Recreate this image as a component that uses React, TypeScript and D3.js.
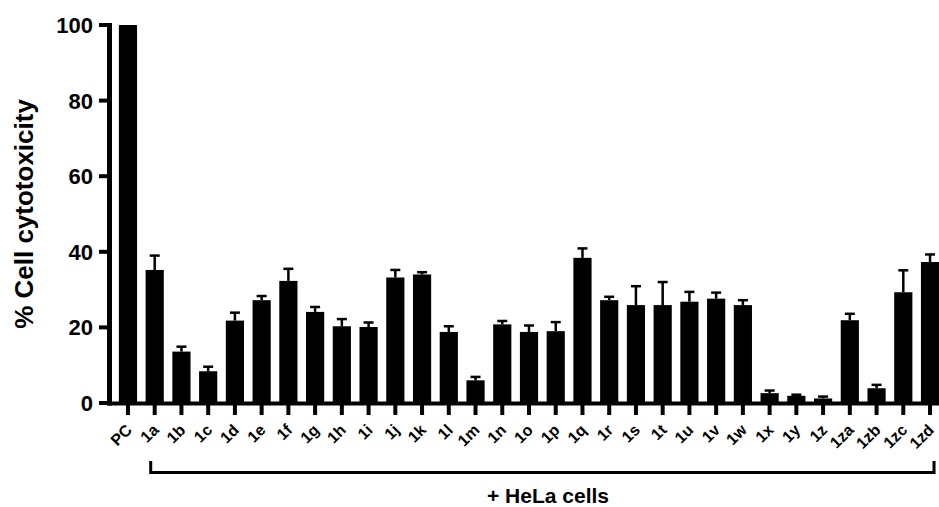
import React from "react";
import * as d3 from "d3";

const categories = ["PC","1a","1b","1c","1d","1e","1f","1g","1h","1i","1j","1k","1l","1m","1n","1o","1p","1q","1r","1s","1t","1u","1v","1w","1x","1y","1z","1za","1zb","1zc","1zd"];
const values = [100,35.2,13.6,8.4,21.8,27.2,32.3,24.1,20.3,20.1,33.2,34.0,18.8,6.0,20.8,18.8,19.0,38.4,27.2,25.9,25.9,26.8,27.6,25.9,2.6,1.9,1.2,21.9,3.9,29.3,37.3];
const errors = [0,3.8,1.3,1.2,2.1,1.1,3.2,1.3,1.9,1.2,2.0,0.6,1.5,0.9,0.9,1.7,2.4,2.5,0.9,5.0,6.1,2.6,1.6,1.3,0.7,0.3,0.5,1.7,0.9,5.8,2.0];
const yTicks = [0,20,40,60,80,100];
const yLabel = "% Cell cytotoxicity";
const groupLabel = "+ HeLa cells";

const W = 939, H = 507;
const FONT = "'Liberation Sans', Arial, Helvetica, sans-serif";

export default function App() {
  const x = d3.scaleBand<string>().domain(categories).range([114.6, 943.4]).paddingInner(0.32).paddingOuter(0.16);
  const y = d3.scaleLinear().domain([0, 100]).range([403, 25]);
  const bw = x.bandwidth();
  const cx = (c: string) => (x(c) as number) + bw / 2;
  const axisX = 109.5;
  const first = cx("1a") - 4;
  const last = cx("1zd") + 4;
  return (
    <svg width={W} height={H} style={{ position: "absolute", left: 0, top: 0, background: "#fff" }} fontFamily={FONT}>
      {categories.map((c, i) => (
        <rect key={c} x={x(c)} y={y(values[i])} width={bw} height={y(0) - y(values[i])} fill="#000" />
      ))}
      {categories.map((c, i) => errors[i] > 0 ? (
        <g key={"e" + c} stroke="#000" strokeWidth={2.5}>
          <line x1={cx(c)} x2={cx(c)} y1={y(values[i])} y2={y(values[i] + errors[i])} />
          <line x1={cx(c) - 5} x2={cx(c) + 5} y1={y(values[i] + errors[i])} y2={y(values[i] + errors[i])} />
        </g>
      ) : null)}
      <line x1={axisX} x2={axisX} y1={y(100) - 2} y2={y(0) + 2.5} stroke="#000" strokeWidth={5} />
      {yTicks.map(t => (
        <g key={t}>
          <line x1={99} x2={axisX} y1={y(t)} y2={y(t)} stroke="#000" strokeWidth={4} />
          <text x={93} y={y(t)} dy="0.36em" textAnchor="end" fontSize={22} fontWeight="bold">{t}</text>
        </g>
      ))}
      <text transform={`translate(33,214) rotate(-90)`} textAnchor="middle" fontSize={26} fontWeight="bold">{yLabel}</text>
      <line x1={axisX - 2.5} x2={W} y1={y(0) + 0.5} y2={y(0) + 0.5} stroke="#000" strokeWidth={4} />
      {categories.map(c => (
        <g key={"t" + c}>
          <line x1={cx(c)} x2={cx(c)} y1={y(0)} y2={415} stroke="#000" strokeWidth={4} />
          <text transform={`translate(${cx(c) + 5},${431}) rotate(-45)`} textAnchor="end" fontSize={16} fontWeight="bold">{c}</text>
        </g>
      ))}
      <path d={`M${first},461 V472.5 H${last} V461`} fill="none" stroke="#000" strokeWidth={3} />
      <text x={487} y={503} textAnchor="start" fontSize={21} fontWeight="bold">{groupLabel}</text>
    </svg>
  );
}
